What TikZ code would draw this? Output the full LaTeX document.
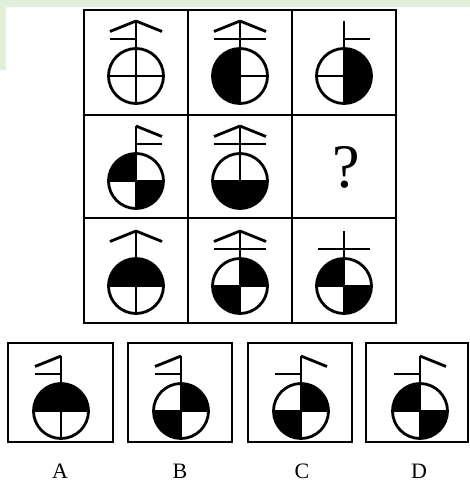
\documentclass[tikz,border=0pt]{standalone}
\usepackage{fontspec}
\setmainfont{Liberation Serif}
\usepackage{xcolor}
\usepackage{tikz}
\definecolor{bandgreen}{HTML}{E2EFD9}

\begin{document}
\begin{tikzpicture}[
  x=1pt, y=-1pt,
  gridline/.style={line width=2.8pt},
  optbox/.style={draw, line width=2pt},
  glyphline/.style={line width=2.8pt},
  every node/.style={inner sep=0pt},
  pics/glyph/.style n args={4}{code={
    \foreach \a in {#1} \fill (0,0) -- (\a:27.5) arc[start angle=\a, delta angle=90, radius=27.5] -- cycle;
    \draw[glyphline] (-27.5,0) -- (27.5,0) (0,27.5) -- (0,-55);
    \draw[glyphline] (0,0) circle[radius=27.5];
    \foreach \s in {#2} \draw[glyphline] (0,-55) -- (\s*26,-44.5);
    \draw[glyphline] (#3*26,-37) -- (#4*26,-37);
  }}
]
\useasboundingbox (0,0) rectangle (470,483);
\fill[bandgreen] (0,0) rectangle (470,7) (0,0) rectangle (6,70);

% grid
\draw[gridline] (84,10) rectangle (396,323);
\draw[gridline] (188,10) -- (188,323) (292,10) -- (292,323);
\draw[gridline] (84,115) -- (396,115) (84,218) -- (396,218);

\pic at (136,76) {glyph={}{-1,1}{-1}{0}};
\pic at (240,76) {glyph={90,180}{-1,1}{-1}{1}};
\pic at (344,76) {glyph={270,0}{}{0}{1}};
\pic at (136,181) {glyph={180,0}{1}{0}{1}};
\pic at (240,181) {glyph={0,90}{-1,1}{-1}{1}};
\node[font=\fontsize{62}{62}\selectfont] (q) at (346,167) {?};
\pic at (136,286) {glyph={180,270}{-1,1}{0}{0}};
\pic at (240,286) {glyph={270,90}{-1,1}{-1}{1}};
\pic at (344,286) {glyph={180,0}{}{-1}{1}};

% choices
\node[optbox, minimum width=105pt, minimum height=99pt] (optA) at (60.5,392.5) {};
\node[optbox, minimum width=104pt, minimum height=99pt] (optB) at (180,392.5) {};
\node[optbox, minimum width=104pt, minimum height=99pt] (optC) at (300,392.5) {};
\node[optbox, minimum width=102pt, minimum height=99pt] (optD) at (417,392.5) {};
\pic at (61,411) {glyph={180,270}{-1}{-1}{0}};
\pic at (181,411) {glyph={270,90}{-1}{-1}{0}};
\pic at (301,411) {glyph={270,90}{1}{-1}{0}};
\pic at (420,411) {glyph={180,0}{1}{-1}{0}};

\node[font=\fontsize{22}{22}\selectfont] (labA) at (60,471) {A};
\node[font=\fontsize{22}{22}\selectfont] (labB) at (180,471) {B};
\node[font=\fontsize{22}{22}\selectfont] (labC) at (302,471) {C};
\node[font=\fontsize{22}{22}\selectfont] (labD) at (419,471) {D};

\end{tikzpicture}
\end{document}
